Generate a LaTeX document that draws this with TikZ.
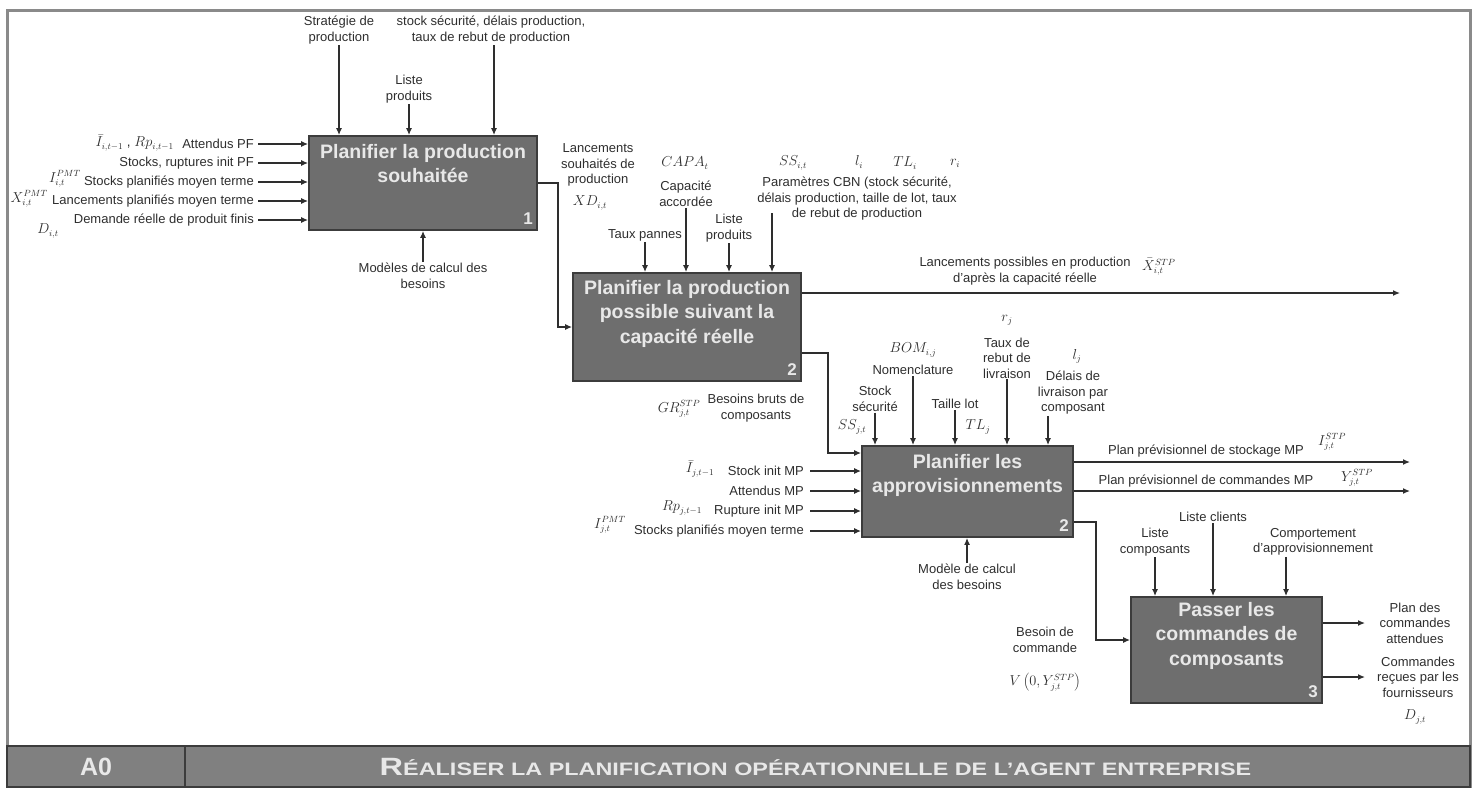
\documentclass[tikz,border=0pt]{standalone}
\usepackage{xcolor}
\usepackage{fontspec}
\setmainfont{Liberation Sans}
\usepackage{tikz}
\usetikzlibrary{arrows.meta, positioning, calc}

\definecolor{boxgray}{HTML}{6E6E6E}
\definecolor{edgegray}{HTML}{3C3C3C}
\definecolor{framegray}{HTML}{8A8A8A}
\definecolor{titlegray}{HTML}{E8E8E8}
\definecolor{inkgray}{HTML}{2E2E2E}
\newcommand{\capinit}[1]{{\fontsize{25}{25}\selectfont #1}}

\begin{document}
\begin{tikzpicture}[
    x=1pt, y=-1pt,
    >={Latex[length=7pt,width=6pt]},
    actbox/.style={rectangle, draw=edgegray, line width=1.8pt, fill=boxgray},
    acttitle/.style={align=center, inner sep=0pt, text=titlegray, font=\fontsize{19.5}{24.5}\selectfont\bfseries},
    num/.style={inner sep=0pt, text=titlegray, font=\fontsize{17}{17}\selectfont\bfseries},
    lbl/.style={align=center, inner sep=1pt, text=inkgray, font=\fontsize{13}{15.5}\selectfont},
    mth/.style={inner sep=0pt, text=inkgray, font=\fontsize{13.5}{16}\selectfont},
    arr/.style={->, line width=1.3pt, draw=inkgray},
    footcell/.style={rectangle, draw=edgegray, line width=1.2pt, fill=black!50, text=titlegray, font=\fontsize{18}{20}\selectfont\bfseries}
]
\useasboundingbox (0,0) rectangle (1477,787);

% frame and footer
\draw[framegray, line width=3pt] (7,10) rectangle (1470,800);
\node[footcell, minimum width=178, minimum height=41] (a0) at (96,766.5) {\capinit{A0}};
\node[footcell, minimum width=1285, minimum height=41] (a0title) at (827.5,766.5)
    {\hspace*{-24pt}\scalebox{1.3}[1]{\capinit{R}ÉALISER LA PLANIFICATION OPÉRATIONNELLE DE L’AGENT ENTREPRISE}};

% 1. Planifier la production souhaitee
\node[actbox, minimum width=228, minimum height=94] (plan1) at (423,183) {};
\node[acttitle, below=9pt of plan1.north] (plan1t) {Planifier la production\\souhaitée};
\node[num, above left=6pt and 5pt of plan1.south east] (plan1n) {1};

\node[lbl, anchor=east] (pf1) at (255,144) {Attendus PF};
\node[lbl, anchor=east] (pf2) at (255,163) {Stocks, ruptures init PF};
\node[lbl, anchor=east] (pf3) at (255,182) {Stocks planifiés moyen terme};
\node[lbl, anchor=east] (pf4) at (255,201) {Lancements planifiés moyen terme};
\node[lbl, anchor=east] (pf5) at (255,220) {Demande réelle de produit finis};
\node[mth, anchor=east] (pf1m) at (174,143) {$\bar{I}_{i,t-1}$ , $Rp_{i,t-1}$};
\node[mth, anchor=east] (pf3m) at (81,179) {$I^{PMT}_{i,t}$};
\node[mth, anchor=east] (pf4m) at (48,199) {$X^{PMT}_{i,t}$};
\node[mth] (pf5m) at (48,231) {$D_{i,t}$};
\foreach \n in {pf1,pf2,pf3,pf4,pf5}
    \draw[arr] ([xshift=3pt]\n.east) -- (\n.east -| plan1.west);

\node[lbl] (strat) at (339,30) {Stratégie de\\production};
\node[lbl] (prod1) at (409,89) {Liste\\produits};
\node[lbl] (param1) at (491,30) {stock sécurité, délais production,\\taux de rebut de production};
\node[lbl] (calc1) at (423,276) {Modèles de calcul des\\besoins};
\draw[arr] (strat.south) -- (strat.south |- plan1.north);
\draw[arr] (prod1.south) -- (prod1.south |- plan1.north);
\draw[arr] ([xshift=3pt]param1.south) -- ([xshift=3pt]param1.south |- plan1.north);
\draw[arr] (calc1.north) -- (calc1.north |- plan1.south);

% 2. Planifier la production possible
\node[actbox, minimum width=228, minimum height=108] (plan2) at (687,327) {};
\node[acttitle, below=8pt of plan2.north] (plan2t) {Planifier la production\\possible suivant la\\capacité réelle};
\node[num, above left=6pt and 5pt of plan2.south east] (plan2n) {2};

\draw[arr] (plan1.east) -- ++(20,0) |- (plan2.west);
\node[lbl] (xd) at (598,165) {Lancements\\souhaités de\\production};
\node[mth] (xdm) at (590,203) {$XD_{i,t}$};

\node[lbl] (pann) at (645,235) {Taux pannes};
\node[mth] (capam) at (685,163) {$CAPA_t$};
\node[lbl] (capa) at (686,194) {Capacité\\accordée};
\node[lbl] (prod2) at (729,228) {Liste\\produits};
\node[mth] (ssm) at (793,163) {$SS_{i,t}$};
\node[mth] (lim) at (859,162) {$l_i$};
\node[mth] (tlim) at (905,163) {$TL_i$};
\node[mth] (rim) at (955,163) {$r_i$};
\node[lbl] (cbn) at (857,199) {Paramètres CBN (stock sécurité,\\délais production, taille de lot, taux\\de rebut de production};
\coordinate (cbnin) at (772,213);
\draw[arr] (pann.south) -- (pann.south |- plan2.north);
\draw[arr] (capa.south) -- (capa.south |- plan2.north);
\draw[arr] (prod2.south) -- (prod2.south |- plan2.north);
\draw[arr] (cbnin) -- (cbnin |- plan2.north);

\coordinate (xout) at (1400,293);
\draw[arr] (plan2.east |- xout) -- (xout);
\node[lbl] (lpos) at (1025,271) {Lancements possibles en production\\d'après la capacité réelle};
\node[mth, anchor=west] (lposm) at (1142,267) {$\bar{X}^{STP}_{i,t}$};

% 3. Planifier les approvisionnements
\node[actbox, minimum width=211, minimum height=91] (appro) at (967.5,491.5) {};
\node[acttitle, below=9pt of appro.north] (approt) {Planifier les\\approvisionnements};
\node[num, above left=6pt and 5pt of appro.south east] (appron) {2};

\coordinate (gr) at (828,353);
\coordinate (grin) at (828,453);
\draw[arr] (plan2.east |- gr) -- (gr) -- (grin) -- (grin -| appro.west);
\node[mth] (grm) at (679,409) {$GR^{STP}_{j,t}$};
\node[lbl] (grl) at (756,408) {Besoins bruts de\\composants};

\node[lbl, anchor=east] (mp1) at (805,471) {Stock init MP};
\node[lbl, anchor=east] (mp2) at (805,491) {Attendus MP};
\node[lbl, anchor=east] (mp3) at (805,511) {Rupture init MP};
\node[lbl, anchor=east] (mp4) at (805,531) {Stocks planifiés moyen terme};
\node[mth] (mp1m) at (700,469) {$\bar{I}_{j,t-1}$};
\node[mth] (mp3m) at (682,508) {$Rp_{j,t-1}$};
\node[mth, anchor=east] (mp4m) at (626,525) {$I^{PMT}_{j,t}$};
\foreach \n in {mp1,mp2,mp3,mp4}
    \draw[arr] ([xshift=5pt]\n.east) -- (\n.east -| appro.west);

\node[lbl] (ssj) at (875,399) {Stock\\sécurité};
\node[mth] (ssjm) at (852,427) {$SS_{j,t}$};
\node[mth] (bomm) at (913,350) {$BOM_{i,j}$};
\node[lbl] (bom) at (913,370) {Nomenclature};
\node[lbl] (tl) at (955,404) {Taille lot};
\node[mth] (tlm) at (978,427) {$TL_j$};
\node[mth] (rjm) at (1007,320) {$r_j$};
\node[lbl] (rj) at (1007,358) {Taux de\\rebut de\\livraison};
\node[mth] (ljm) at (1077,356) {$l_j$};
\node[lbl] (lj) at (1073,393) {Délais de\\livraison par\\composant};
\draw[arr] (ssj.south) -- (ssj.south |- appro.north);
\draw[arr] (bom.south) -- (bom.south |- appro.north);
\draw[arr] (tl.south) -- (tl.south |- appro.north);
\draw[arr] (rj.south) -- (rj.south |- appro.north);
\draw[arr] ([xshift=-25pt]lj.south) -- ([xshift=-25pt]lj.south |- appro.north);

\node[lbl] (calc3) at (967,577) {Modèle de calcul\\des besoins};
\draw[arr] (calc3.north) -- (calc3.north |- appro.south);

\coordinate (stk) at (1410,462);
\coordinate (cmd) at (1410,491);
\draw[arr] (appro.east |- stk) -- (stk);
\draw[arr] (appro.east |- cmd) -- (cmd);
\node[lbl] (stkl) at (1206,451) {Plan prévisionnel de stockage MP};
\node[mth] (stkm) at (1332,442) {$I^{STP}_{j,t}$};
\node[lbl] (cmdl) at (1206,481) {Plan prévisionnel de commandes MP};
\node[mth] (cmdm) at (1357,478) {$Y^{STP}_{j,t}$};

% 4. Passer les commandes
\node[actbox, minimum width=191, minimum height=106] (cmdc) at (1226.5,650) {};
\node[acttitle, below=6pt of cmdc.north] (cmdct) {Passer les\\commandes de\\composants};
\node[num, above left=6pt and 5pt of cmdc.south east] (cmdcn) {3};

\coordinate (bc) at (1096,522);
\coordinate (bcin) at (1096,640);
\draw[arr] (appro.east |- bc) -- (bc) -- (bcin) -- (bcin -| cmdc.west);
\node[lbl] (bcl) at (1045,640) {Besoin de\\commande};
\node[mth] (bcm) at (1045,682) {$V\left(0, Y^{STP}_{j,t}\right)$};

\node[lbl] (lcomp) at (1155,542) {Liste\\composants};
\node[lbl] (lcli) at (1213,517) {Liste clients};
\node[lbl] (comp) at (1313,542) {Comportement\\d'approvisionnement};
\draw[arr] (lcomp.south) -- (lcomp.south |- cmdc.north);
\draw[arr] (lcli.south) -- (lcli.south |- cmdc.north);
\draw[arr] ([xshift=-27pt]comp.south) -- ([xshift=-27pt]comp.south |- cmdc.north);

\coordinate (pca) at (1365,623);
\coordinate (crf) at (1365,677);
\draw[arr] (cmdc.east |- pca) -- (pca);
\draw[arr] (cmdc.east |- crf) -- (crf);
\node[lbl] (pcal) at (1415,623) {Plan des\\commandes\\attendues};
\node[lbl] (crfl) at (1418,677) {Commandes\\reçues par les\\fournisseurs};
\node[mth] (crfm) at (1415,717) {$D_{j,t}$};

\end{tikzpicture}
\end{document}
